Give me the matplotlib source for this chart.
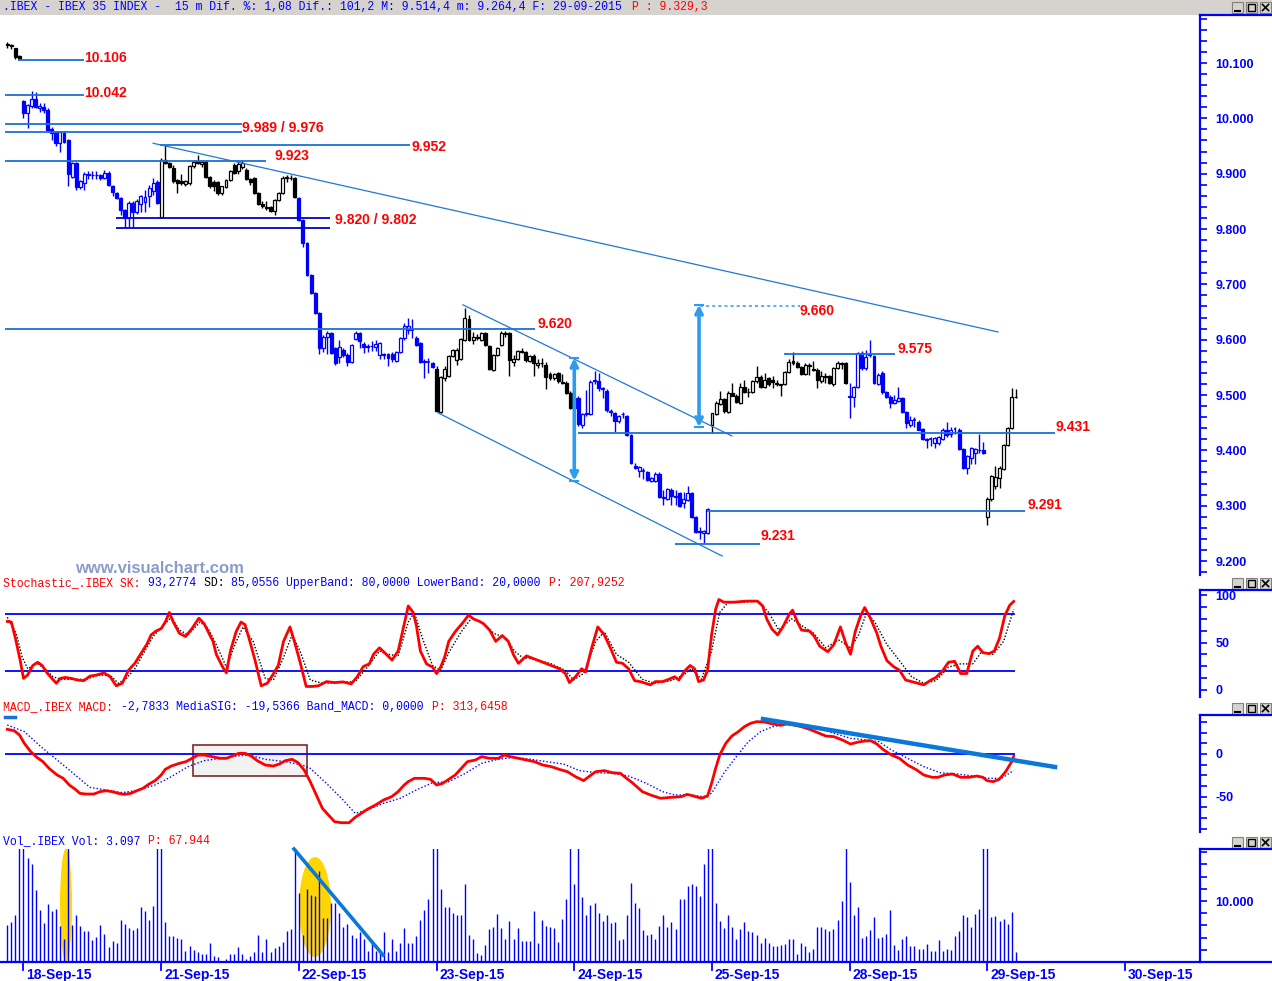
import matplotlib
matplotlib.use('Agg')
import matplotlib.pyplot as plt
from matplotlib.patches import Rectangle, Ellipse
import matplotlib.transforms as mtrans
import numpy as np

# ---------------- DATA ----------------
bars_per_day = [4, 34, 34, 34, 34, 34, 34, 34, 8]
day_labels = ['18-Sep-15', '21-Sep-15', '22-Sep-15', '23-Sep-15', '24-Sep-15',
              '25-Sep-15', '28-Sep-15', '29-Sep-15', '30-Sep-15']

# OHLC per trading day (15 min bars)
d17 = [(10135,10138,10128,10133),(10132,10134,10126,10130),(10127,10128,10107,10111),(10113,10114,10105,10107)]
d18 = [(10031,10033,10001,10010),(10010,10026,9983,10024),(10022,10049,10018,10035),(10035,10047,10018,10021),
       (10019,10027,10012,10022),(10020,10027,10010,10015),(10015,10018,9975,9979),(9981,9985,9961,9974),
       (9975,9977,9950,9955),(9955,9978,9940,9975),(9973,9978,9955,9957),(9960,9962,9878,9900),
       (9894,9922,9892,9919),(9919,9922,9870,9876),(9876,9888,9873,9886),(9883,9903,9870,9899),
       (9897,9905,9890,9899),(9897,9905,9890,9898),(9898,9904,9890,9897),(9897,9900,9888,9892),
       (9892,9906,9890,9902),(9902,9905,9878,9880),(9878,9880,9860,9867),(9865,9867,9855,9856),
       (9856,9858,9825,9834),(9834,9836,9804,9820),(9820,9850,9804,9847),(9847,9850,9804,9830),
       (9830,9855,9828,9850),(9845,9862,9830,9860),(9848,9870,9830,9857),(9860,9880,9840,9875),
       (9868,9892,9862,9884),(9885,9888,9845,9847)]
d21 = [(9822,9928,9820,9925),(9925,9952,9917,9920),(9919,9922,9910,9912),(9910,9915,9883,9886),
       (9888,9890,9865,9883),(9886,9900,9880,9884),(9882,9888,9878,9886),(9883,9916,9880,9914),
       (9914,9925,9910,9922),(9923,9933,9918,9920),(9918,9925,9912,9922),(9921,9924,9893,9894),
       (9894,9896,9875,9878),(9885,9888,9868,9877),(9885,9887,9862,9866),(9866,9878,9862,9877),
       (9876,9890,9874,9888),(9888,9906,9886,9904),(9915,9920,9900,9902),(9905,9925,9900,9918),
       (9912,9925,9908,9920),(9906,9910,9888,9890),(9890,9893,9880,9885),(9892,9894,9863,9865),
       (9865,9867,9843,9845),(9846,9850,9838,9842),(9839,9850,9834,9838),(9840,9842,9830,9832),
       (9832,9855,9826,9852),(9852,9867,9850,9865),(9865,9895,9863,9893),(9893,9898,9885,9894),
       (9893,9897,9888,9892),(9892,9894,9856,9858)]
d22 = [(9856,9858,9815,9817),(9817,9819,9768,9775),(9775,9777,9715,9717),(9717,9719,9682,9684),
       (9684,9686,9646,9648),(9648,9650,9575,9585),(9585,9608,9578,9605),(9605,9615,9575,9612),
       (9612,9614,9574,9576),(9585,9587,9555,9558),(9568,9600,9557,9586),(9582,9585,9568,9572),
       (9573,9576,9553,9560),(9560,9592,9558,9590),(9602,9615,9600,9612),(9612,9614,9585,9597),
       (9592,9596,9576,9587),(9588,9592,9578,9587),(9588,9597,9580,9589),(9586,9600,9580,9592),
       (9572,9596,9565,9594),(9574,9576,9565,9572),(9575,9576,9552,9566),(9575,9578,9560,9565),
       (9562,9580,9560,9578),(9578,9605,9576,9603),(9603,9630,9600,9625),(9618,9640,9610,9625),
       (9617,9637,9603,9617),(9603,9606,9588,9590),(9594,9596,9558,9560),(9561,9565,9531,9560),
       (9560,9566,9540,9560),(9558,9560,9548,9551)]
d23 = [(9547,9552,9469,9471),(9470,9535,9468,9532),(9530,9552,9525,9547),(9535,9572,9532,9570),
       (9570,9584,9568,9582),(9563,9585,9555,9582),(9565,9603,9563,9601),(9600,9658,9598,9640),
       (9638,9645,9598,9600),(9600,9614,9592,9605),(9604,9610,9600,9603),(9600,9614,9598,9612),
       (9612,9614,9588,9590),(9588,9590,9545,9547),(9546,9574,9544,9572),(9572,9587,9570,9585),
       (9590,9616,9588,9612),(9612,9616,9605,9611),(9612,9614,9535,9563),(9560,9572,9553,9565),
       (9565,9581,9563,9580),(9580,9585,9576,9578),(9578,9580,9560,9563),(9562,9573,9560,9570),
       (9570,9575,9535,9557),(9555,9565,9548,9558),(9558,9566,9550,9557),(9555,9560,9510,9533),
       (9538,9542,9528,9530),(9530,9540,9528,9538),(9540,9542,9522,9525),(9524,9538,9520,9522),
       (9522,9525,9502,9504),(9504,9507,9475,9477)]
d24 = [(9477,9500,9470,9495),(9495,9498,9444,9448),(9446,9468,9440,9466),(9466,9509,9462,9467),
       (9466,9527,9464,9524),(9526,9543,9520,9527),(9525,9540,9508,9512),(9512,9514,9494,9511),
       (9508,9510,9470,9473),(9472,9474,9462,9470),(9468,9470,9433,9453),(9453,9464,9450,9462),
       (9465,9469,9458,9466),(9462,9464,9426,9428),(9428,9430,9375,9377),(9372,9378,9366,9368),
       (9362,9372,9352,9370),(9362,9368,9348,9362),(9360,9362,9345,9347),(9345,9352,9343,9350),
       (9345,9360,9343,9358),(9358,9360,9313,9315),(9313,9329,9302,9315),(9312,9332,9310,9330),
       (9328,9332,9302,9318),(9318,9328,9302,9316),(9322,9325,9298,9300),(9305,9325,9295,9312),
       (9310,9335,9308,9322),(9322,9325,9278,9280),(9280,9282,9251,9253),(9254,9262,9240,9253),
       (9250,9256,9233,9254),(9250,9296,9248,9294)]
d25 = [(9446,9468,9432,9467),(9466,9490,9464,9486),(9484,9507,9482,9493),(9493,9495,9468,9472),
       (9470,9508,9468,9504),(9504,9522,9498,9499),(9499,9502,9485,9487),(9486,9522,9484,9514),
       (9514,9528,9503,9505),(9505,9512,9496,9506),(9505,9528,9503,9525),(9525,9552,9522,9533),
       (9533,9536,9512,9514),(9515,9540,9513,9528),(9530,9532,9516,9519),(9528,9534,9513,9523),
       (9520,9527,9517,9521),(9518,9520,9498,9519),(9520,9543,9518,9541),(9542,9565,9540,9559),
       (9562,9578,9555,9557),(9558,9562,9548,9550),(9550,9552,9536,9538),(9538,9558,9536,9554),
       (9552,9558,9536,9554),(9547,9562,9544,9546),(9545,9548,9513,9527),(9526,9543,9522,9534),
       (9534,9540,9522,9533),(9534,9536,9520,9522),(9519,9551,9517,9549),(9549,9562,9547,9557),
       (9556,9559,9547,9557),(9557,9559,9520,9522)]
d28 = [(9496,9521,9458,9498),(9497,9517,9479,9515),(9515,9578,9512,9576),(9576,9580,9546,9548),
       (9548,9581,9545,9569),(9572,9599,9568,9574),(9570,9573,9520,9522),(9520,9540,9518,9536),
       (9540,9544,9502,9505),(9505,9508,9494,9497),(9497,9500,9476,9486),(9486,9500,9484,9491),
       (9490,9515,9488,9495),(9495,9497,9468,9470),(9470,9472,9440,9449),(9446,9462,9443,9455),
       (9454,9460,9443,9454),(9452,9455,9436,9437),(9439,9441,9418,9420),(9421,9423,9405,9419),
       (9421,9424,9407,9421),(9413,9424,9405,9423),(9413,9426,9410,9424),(9420,9440,9418,9437),
       (9437,9452,9425,9427),(9430,9442,9424,9436),(9438,9442,9430,9438),(9437,9440,9400,9402),
       (9402,9404,9366,9368),(9368,9392,9358,9390),(9387,9406,9376,9404),(9396,9405,9376,9402),
       (9400,9430,9396,9401),(9401,9415,9394,9395)]
d29 = [(9280,9315,9265,9312),(9312,9356,9308,9353),(9335,9371,9330,9352),(9350,9372,9332,9368),
       (9366,9412,9364,9410),(9410,9442,9408,9440),(9440,9512,9438,9497),(9496,9510,9494,9497)]

# volume per day
v17 = [6070, 6520, 7640, 25000]
v18 = [25000,17030,16070,11800,8600,6350,9550,8430,8770,5960,3710,25000,6070,7640,5960,5060,5060,
       3540,4100,6070,4660,2420,3370,3150,6910,6180,5510,5230,5510,8990,8430,6910,9160,25000]
v21 = [25000,6520,4270,4270,3930,3710,1850,2700,2020,1690,1290,1290,3150,1010,900,170,560,1290,
       1290,2420,1290,450,1010,1690,4500,1690,3820,1690,2250,2700,3260,5060,5400,25000]
v22 = [11240,4380,11970,11020,10850,14950,7190,7190,9720,9720,8040,5790,6180,4380,3930,4950,3710,
       1850,3150,1850,1460,4950,1690,3710,1850,3150,5620,3150,3150,4270,6910,8600,10290,25000]
v23 = [25000,11970,8990,8990,8040,7640,7640,12810,4380,3710,1460,1120,2810,5400,5790,7870,5620,3710,
       6740,3710,5620,3370,3370,3370,8430,3150,6910,5960,5790,5510,3260,7080,10290,25000]
v24 = [12810,25000,10680,7750,9330,9720,8040,6740,7640,6350,6520,3540,3710,7750,12920,9720,8880,
       5230,4380,4660,3710,5960,7750,5790,6520,5400,10290,10290,12530,12810,12530,10850,16070,25000]
v25 = [25000,9720,6740,5620,7640,5790,3710,5400,6520,5060,4950,4500,3150,3930,3150,2590,2590,2810,
       2980,3710,3710,1240,3150,2590,1690,2140,5790,5790,5400,5060,5400,6910,10000,25000]
v28 = [13090,7640,8990,3930,4270,5230,7310,3930,4100,4550,8600,2810,2020,3820,4210,2700,2590,2140,
       2140,2980,1850,1850,3540,1850,2140,2020,4270,5060,7750,7310,5790,7870,8770,25000]
v29 = [25000,7310,7590,6740,7030,6240,8260,1690]

# Stochastic %K (SK) and %D (SD): (bar, value)
sk = [(0,72.2),(1,71.5),(2,54.6),(3.2,30.8),(4,12.2),(5,15.6),(6.3,25.8),(7.5,29.2),(8.6,25.8),(9.8,18.0),
      (11,12.2),(12.1,7.1),(13.1,12.2),(14.3,13.2),(15.8,12.2),(17.3,10.5),(18.9,9.8),(20.4,14.6),(21.9,15.6),
      (23.9,18.0),(25.4,13.9),(26.9,4.4),(28.4,7.1),(29.9,20.7),(31.5,28.1),(33,38.3),(34.5,48.5),(35.5,58.0),
      (36.7,62.0),(38,64.7),(39,71.5),(40,81.7),(41,71.5),(42.5,59.7),(44,56.3),(45.6,64.7),(47.3,75.6),
      (48.6,69.8),(49.8,59.7),(50.8,51.2),(51.6,37.6),(53.1,24.7),(54.1,18.0),(55.1,41.0),(56.5,61.4),
      (57.7,71.5),(58.7,68.8),(59.9,51.2),(61.2,30.8),(62.7,4.4),(64.2,7.1),(65.5,15.6),(66.9,25.8),(68.2,51.2),
      (69.8,66.4),(71,49.5),(72.3,29.2),(73.8,3.7),(75.3,3.7),(76.8,4.4),(78.8,8.8),(80.8,7.8),(82.9,8.5),
      (84.9,6.4),(86.4,13.9),(87.9,24.7),(89.4,27.5),(90.4,37.6),(91.9,44.4),(93.4,38.3),(95,31.5),(96.5,41.0),
      (97.5,59.7),(99,88.5),(100.2,81.7),(101,68.1),(102,41.0),(103.5,27.5),(105,24.1),(106,17.3),(107,24.1),
      (108,34.9),(109,51.2),(110.6,61.4),(112.6,71.5),(113.9,79.0),(115.1,74.9),(116.6,72.2),(117.6,69.8),
      (119.1,63.1),(120.6,51.2),(122.2,57.3),(123.7,51.2),(125,37.0),(126.2,28.1),(128.2,35.9),(130.2,32.5),
      (132.2,29.2),(134.3,25.8),(136.3,22.4),(137.8,17.3),(138.8,7.8),(140.3,13.9),(141.8,22.4),(142.8,19.0),
      (144.3,44.4),(145.8,66.4),(147.4,58.0),(148.9,44.4),(150.4,29.2),(151.9,28.1),(153.4,22.4),(154.9,9.8),
      (156.3,8.8),(158.8,5.4),(160,8.8),(161.8,8.8),(163.3,11.2),(164.8,13.9),(165.8,10.5),(167.4,20.7),
      (168.6,25.8),(169.7,22.4),(170.7,8.8),(171.9,10.5),(172.9,20.7),(173.9,58.0),(174.9,85.1),(175.7,95.3),
      (176.9,92.5),(179.5,92.5),(182.5,93.6),(185.2,93.6),(186.5,88.5),(187.5,74.9),(188.8,64.1),(190.2,58.0),
      (191.5,66.4),(193.1,80.0),(193.9,84.1),(195.1,71.5),(196.1,63.1),(198.1,62.0),(199.3,56.3),(200.6,46.1),
      (202.6,40.3),(204.1,47.8),(205.7,66.4),(207,49.5),(208.2,37.6),(209.4,62.0),(210.7,78.3),(211.7,86.8),
      (213.2,74.9),(214.7,59.7),(215.7,46.1),(217.2,30.8),(218.8,24.7),(220.3,20.7),(221.8,10.5),(223.3,8.8),
      (224.8,7.1),(226.3,5.4),(227.8,9.8),(229.3,13.2),(230.9,20.0),(232.4,29.2),(233.9,30.2),(235.4,17.3),
      (236.9,17.3),(238.4,41.0),(239.6,46.1),(240.9,39.3),(242.4,38.3),(243.7,41.0),(245,54.6),(246.3,78.3),
      (247.5,89.2),(248.5,93.3)]
sd = [(0,76.6),(2.2,59.7),(3.7,34.2),(5.05,22.4),(7.3,28.1),(9.3,22.4),(11.3,13.9),(13.3,11.2),(16.3,11.2),
      (19.4,11.2),(22.4,15.6),(25.4,15.6),(27.4,7.1),(29.4,12.2),(31.5,22.4),(33.5,37.6),(36,56.3),(38.5,68.1),
      (40.5,76.6),(42.5,63.1),(44.6,58.0),(47.6,71.5),(49.6,64.7),(51.6,47.8),(54.1,24.1),(56.2,47.8),
      (58.2,66.4),(60.7,51.2),(63.7,12.2),(65.7,10.5),(68.2,34.2),(70.3,58.0),(72.3,41.0),(74.8,10.5),
      (77.8,7.1),(81.8,7.8),(85.9,8.8),(88.9,24.1),(91.9,41.0),(93.9,37.6),(96.5,35.9),(99,71.5),(100.5,81.7),
      (102.5,54.6),(105,25.8),(107,20.7),(109,39.3),(112.1,61.4),(114.6,75.6),(117.1,71.5),(120.1,59.7),
      (123.2,54.6),(125.2,41.0),(127.2,34.2),(130.2,32.5),(134.3,27.5),(137.8,20.7),(139.8,10.5),(142.3,17.3),
      (145.3,51.2),(147.4,61.4),(150.4,37.6),(153.4,29.2),(156.8,11.2),(159.8,7.1),(163.8,9.8),(166.9,15.6),
      (168.9,22.4),(171.4,11.2),(173.9,41.0),(175.9,81.7),(177.9,91.9),(182,92.5),(185.5,93.6),(188,81.7),
      (190.5,63.1),(193.6,74.9),(196.1,68.1),(199.1,59.7),(202.1,44.4),(205.2,52.9),(208.2,44.4),(210.2,58.0),
      (212.2,81.7),(214.2,71.5),(217.2,47.8),(220.3,30.8),(223.3,13.9),(226.3,7.1),(229.3,9.8),(232.4,24.1),
      (235.4,27.5),(238.4,27.5),(240.4,39.3),(243.4,37.6),(246,51.2),(248.5,85.1)]

# MACD and signal: (bar, value)
macd = [(0,28.9),(1.7,27.3),(3,22.3),(4.2,12.5),(5.8,2.7),(7.3,-3.9),(8.8,-9.0),(10.3,-16.8),(12.3,-24.6),
        (13.8,-28.5),(15.3,-36.3),(16.8,-41.4),(17.9,-46.1),(19.4,-46.9),(21.4,-46.9),(22.9,-44.1),(24.4,-43.0),
        (25.9,-44.1),(27.4,-46.1),(28.9,-47.3),(30.5,-46.1),(32,-43.0),(33.5,-40.2),(35,-35.2),(36.5,-31.2),
        (38,-24.6),(39,-18.0),(40.5,-14.1),(42.5,-10.9),(44.1,-9.0),(45.6,-5.1),(47.1,-1.2),(48.6,-1.2),
        (50.6,-3.1),(52.6,-5.1),(54.1,-5.1),(55.6,-2.3),(57.2,0.8),(58.7,0.8),(60.2,-2.3),(61.7,-7.8),
        (63.7,-12.9),(65.7,-14.1),(67.2,-11.7),(68.7,-7.8),(70.3,-6.2),(71.8,-10.2),(73.3,-18.8),(74.8,-32.4),
        (76.3,-48.0),(77.8,-63.7),(79.3,-71.5),(80.8,-79.3),(82.4,-80.5),(84.4,-80.5),(85.9,-74.2),(87.4,-69.5),
        (88.9,-64.8),(90.9,-59.8),(92.9,-53.9),(94.9,-50.0),(96.5,-44.1),(98,-36.3),(99,-32.4),(100.5,-28.5),
        (103,-28.5),(104.5,-29.7),(106,-36.3),(107.5,-34.4),(109,-29.7),(110.6,-24.6),(112.1,-16.8),
        (113.6,-9.0),(115.6,-7.0),(117.1,-3.1),(119.1,-5.1),(121.2,-5.1),(122.7,-1.2),(124.2,-3.1),(126.2,-5.1),
        (128.2,-7.0),(130.2,-9.0),(132.2,-12.9),(134.3,-14.8),(136.3,-18.0),(138.3,-20.7),(140.3,-26.6),
        (142.3,-31.2),(143.8,-25.8),(145.3,-20.7),(147.4,-19.5),(149.4,-21.9),(151.4,-22.7),(152.9,-28.5),
        (154.4,-34.0),(156.8,-44.1),(158.8,-48.0),(161.3,-51.9),(163.8,-50.8),(166.4,-50.0),(167.9,-47.3),
        (169.4,-49.2),(171.4,-51.9),(172.9,-49.2),(173.9,-34.4),(174.9,-16.8),(175.9,-1.2),(177.4,12.5),
        (178.9,21.1),(180.5,26.2),(182,32.0),(183.5,35.9),(185,37.9),(187,37.5),(189,35.2),(191,33.6),
        (192.5,35.2),(194.1,34.0),(196.1,32.0),(198.1,28.9),(200.1,25.0),(202.1,21.1),(204.1,20.3),(206.2,16.4),
        (208.2,11.7),(210.2,14.1),(211.7,15.2),(213.2,15.6),(214.7,11.7),(216.2,5.5),(218.3,-1.2),(220.3,-5.1),
        (222.3,-12.9),(224.3,-18.0),(226.3,-24.6),(228.3,-27.3),(229.8,-27.3),(231.4,-24.6),(233.4,-23.4),
        (235.4,-27.3),(237.4,-27.3),(239.4,-25.8),(240.9,-27.3),(241.9,-31.2),(243.4,-32.4),(244.9,-29.7),
        (246.5,-20.7),(248,-9.0),(248.5,-2.8)]
signal = [(0,34.0),(4.2,26.2),(8.3,8.6),(12.3,-7.0),(16.3,-22.7),(20.4,-39.1),(24.4,-42.2),(28.4,-45.3),
          (32.5,-42.2),(36.5,-36.3),(40.5,-26.6),(44.6,-14.8),(48.6,-7.8),(52.6,-5.1),(56.7,-2.3),(59.7,-1.2),
          (63.7,-6.2),(68.7,-9.0),(72.8,-12.9),(74.8,-16.8),(78.8,-34.4),(82.9,-53.9),(85.9,-69.5),(88.9,-65.6),
          (92.9,-57.8),(97,-51.9),(101,-42.2),(105,-33.6),(109,-32.4),(113.1,-22.7),(117.1,-10.9),(121.2,-6.2),
          (125.2,-3.9),(129.2,-6.2),(133.2,-9.0),(137.3,-11.7),(141.3,-19.5),(145.3,-21.9),(149.4,-22.7),
          (153.4,-25.8),(157.8,-34.4),(161.8,-44.1),(164.8,-48.0),(168.9,-48.0),(171.9,-50.0),(173.9,-46.1),
          (176.9,-22.7),(180,-3.1),(183,14.5),(186,26.2),(189,32.0),(192.1,34.8),(196.1,34.0),(200.1,30.1),
          (204.1,24.2),(208.2,18.4),(212.2,16.4),(215.2,14.5),(218.3,4.7),(222.3,-5.1),(226.3,-14.8),
          (230.3,-21.9),(234.4,-23.4),(238.4,-25.8),(242.4,-28.5),(245.5,-28.5),(248,-20.7),(248.5,-19.5)]

# Drawn support / resistance levels: (price, first bar, last bar)
levels_light = [(10106, 2.6, 18.9), (10042, -0.6, 18.9), (9989, -0.6, 57.9), (9976, -0.6, 57.9),
                (9952, 37.7, 99.4), (9923, -0.6, 63.9), (9620, -0.6, 130.3), (9575, 191.8, 219.2),
                (9431, 140.9, 258.7), (9291, 172.8, 251.3), (9231, 164.9, 185.9)]
levels_dark = [(9820, 26.8, 79.7), (9802, 26.8, 79.7)]
level_labels = [('10.106', 18.9, 10109), ('10.042', 18.9, 10046), ('9.989 / 9.976', 57.9, 9983),
                ('9.952', 99.9, 9948), ('9.923', 65.9, 9932), ('9.820 / 9.802', 80.9, 9816),
                ('9.620', 130.8, 9628), ('9.660', 195.7, 9652), ('9.575', 219.7, 9583),
                ('9.431', 258.7, 9442), ('9.291', 251.8, 9301), ('9.231', 185.9, 9245)]
trendlines = [((36.0, 9955), (244.6, 9614)), ((112.5, 9663), (178.9, 9426)), ((106.3, 9468), (176.5, 9209))]
arrows = [(140.0, 9567, 9345), (170.8, 9663, 9442)]
target_line = (9660, 171.0, 195.7)

# ---------------- LAYOUT HELPERS ----------------
W, H = 1272, 981
BLUE = '#0000FF'
LBLUE = '#1C6FD6'
RED = '#FF0000'
fig = plt.figure(figsize=(W / 100, H / 100), dpi=100)
fig.patch.set_facecolor('white')

PXB, X0 = 4.05, 7.3
def bx(px):
    return (px - X0) / PXB

def frect(x0, y0, x1, y1):
    return [x0 / W, 1 - y1 / H, (x1 - x0) / W, (y1 - y0) / H]

XL = (bx(0), bx(1200))

def style(ax, ylim):
    for s in ['left', 'top', 'bottom']:
        ax.spines[s].set_visible(False)
    ax.spines['right'].set_color(BLUE)
    ax.spines['right'].set_linewidth(1.6)
    ax.yaxis.tick_right()
    ax.tick_params(axis='y', which='both', direction='out', colors=BLUE, length=5, width=1.2, pad=6)
    ax.tick_params(axis='x', which='both', bottom=False, labelbottom=False)
    ax.set_xlim(*XL)
    ax.set_ylim(*ylim)
    ax.patch.set_alpha(0)

def set_labels(ax, ticks, labels, minor):
    ax.set_yticks(ticks)
    ax.set_yticklabels(labels, fontsize=9, fontweight='bold', family='Liberation Sans', color=BLUE)
    ax.set_yticks(minor, minor=True)

# ---------------- TITLE BAR ----------------
fig.add_artist(Rectangle((0, 1 - 15 / H), 1, 15 / H, transform=fig.transFigure,
                         facecolor='#D6D3CE', edgecolor='none', zorder=0))

FS = 8.3
CW = 0.6 * FS * 100 / 72
def seg_text(x, y, segs):
    n = 0
    for s, c in segs:
        fig.text((x + n * CW) / W, 1 - y / H, s, color=c, fontsize=FS, family='Liberation Mono',
                 va='center', ha='left')
        n += len(s)

def buttons(ytop):
    for k, bxp in enumerate([1232, 1246, 1260]):
        fig.add_artist(Rectangle((bxp / W, 1 - (ytop + 11) / H), 11 / W, 11 / H, transform=fig.transFigure,
                                 facecolor='#D6D3CE', edgecolor='#808080', lw=0.8))
        cx, cy = bxp + 5.5, ytop + 5.5
        if k == 0:
            fig.add_artist(plt.Line2D([(cx - 3) / W, (cx + 2) / W], [1 - (cy + 3) / H] * 2,
                                      transform=fig.transFigure, color='black', lw=1.5))
        elif k == 1:
            fig.add_artist(Rectangle(((cx - 3.5) / W, 1 - (cy + 3.5) / H), 7 / W, 7 / H,
                                     transform=fig.transFigure, facecolor='none', edgecolor='black', lw=1))
        else:
            fig.add_artist(plt.Line2D([(cx - 3) / W, (cx + 3) / W], [1 - (cy - 3) / H, 1 - (cy + 3) / H],
                                      transform=fig.transFigure, color='black', lw=1.2))
            fig.add_artist(plt.Line2D([(cx - 3) / W, (cx + 3) / W], [1 - (cy + 3) / H, 1 - (cy - 3) / H],
                                      transform=fig.transFigure, color='black', lw=1.2))

seg_text(3, 7.5, [('.IBEX - IBEX 35 INDEX -  15 m Dif. %: 1,08 Dif.: 101,2 M: 9.514,4 m: 9.264,4 F: 29-09-2015 ', BLUE),
                  ('P : 9.329,3', RED)])
buttons(2)

# ---------------- PRICE PANEL ----------------
axP = fig.add_axes(frect(0, 15, 1200, 575))
style(axP, (9174.7, 10186.8))
set_labels(axP, np.arange(9200, 10101, 100),
           ['{:,}'.format(v).replace(',', '.') for v in range(9200, 10101, 100)],
           np.arange(9180, 10181, 20))

days = [d17, d18, d21, d22, d23, d24, d25, d28, d29]
ohlc = np.array([b for d in days for b in d], dtype=float)
O, Hh, L, C = ohlc.T
N = len(ohlc)
idx = np.arange(N)
day_of_bar = np.concatenate([[k] * n for k, n in enumerate(bars_per_day)])
cols = np.where(day_of_bar % 2 == 0, 'black', BLUE)

axP.vlines(idx, L, Hh, colors=cols, lw=1.0, zorder=2)
up = C > O
dn = C < O
eq = C == O
BW = 0.72
axP.bar(idx[up], (C - O)[up], bottom=O[up], width=BW, facecolor='white', edgecolor=cols[up],
        lw=0.9, zorder=2.5)
axP.bar(idx[dn], (C - O)[dn], bottom=O[dn], width=BW, facecolor=cols[dn], edgecolor=cols[dn],
        lw=0.9, zorder=2.5)
axP.hlines(C[eq], idx[eq] - BW / 2, idx[eq] + BW / 2, colors=cols[eq], lw=1.2, zorder=2.5)

for p, a, b in levels_light:
    axP.hlines(p, a, b, color=LBLUE, lw=1.3, zorder=3)
for p, a, b in levels_dark:
    axP.hlines(p, a, b, color='#0000C8', lw=1.3, zorder=3)
for (a, pa), (b, pb) in trendlines:
    axP.plot([a, b], [pa, pb], color='#1E78D8', lw=0.9, zorder=3)
axP.hlines(target_line[0], target_line[1], target_line[2], color='#2E9BEF', lw=1.1,
           linestyles=(0, (2, 2)), zorder=3)
for xi, ptop, pbot in arrows:
    axP.annotate('', xy=(xi, ptop), xytext=(xi, pbot),
                 arrowprops=dict(arrowstyle='<->', color='#2E9BEF', lw=2.6, mutation_scale=11,
                                 shrinkA=0, shrinkB=0), zorder=4)
    axP.hlines([ptop, pbot], xi - 1.2, xi + 1.2, color='#2E9BEF', lw=1.5, zorder=4)
for txt, xi, p in level_labels:
    axP.text(xi, p, txt, color=RED, fontsize=10, fontweight='bold', family='Liberation Sans',
             va='center', ha='left', zorder=5)
axP.text(bx(75), 9187, 'www.visualchart.com', color='#8C9BCB', fontsize=12, fontweight='bold',
         family='Liberation Sans', va='center', ha='left')

# ---------------- STOCHASTIC ----------------
seg_text(3, 583, [('Stochastic_.IBEX SK: ', RED), ('93,2774 ', BLUE), ('SD: ', 'black'),
                  ('85,0556 UpperBand: 80,0000 LowerBand: 20,0000 ', BLUE), ('P: 207,9252', RED)])
buttons(578)
axS = fig.add_axes(frect(0, 590, 1200, 697))
style(axS, (-7.4, 105.3))
set_labels(axS, [0, 50, 100], ['0', '50', '100'], np.arange(0, 101, 12.5))
axS.hlines([80, 20], bx(5), bx(1015), color=BLUE, lw=1.3)
sdb, sdv = np.array(sd).T
axS.plot(sdb, sdv, color='black', lw=1.0, ls=(0, (1, 1.3)))
skb, skv = np.array(sk).T
axS.plot(skb, skv, color=RED, lw=2.0)

# ---------------- MACD ----------------
seg_text(3, 707, [('MACD_.IBEX MACD: ', RED), ('-2,7833 MediaSIG: -19,5366 Band_MACD: 0,0000 ', BLUE),
                  ('P: 313,6458', RED)])
fig.add_artist(plt.Line2D([5 / W, 15 / W], [1 - 717 / H] * 2, transform=fig.transFigure, color='#1C6FD6', lw=2.5))
buttons(703)
axM = fig.add_axes(frect(0, 715, 1200, 832))
style(axM, (-91.4, 45.7))
set_labels(axM, [-50, 0], ['-50', '0'], np.arange(-87.5, 45, 12.5))
axM.add_patch(Rectangle((bx(193), -25.8), bx(307) - bx(193), 36.4, facecolor='#F2F2F2',
                        edgecolor='#7A2A2A', lw=1.2, zorder=1))
axM.hlines(0, bx(5), bx(1015), color=BLUE, lw=1.3, zorder=2)
mb, mv = np.array(signal).T
axM.plot(mb, mv, color=BLUE, lw=1.0, ls=(0, (1, 1.5)), zorder=3)
mb2, mv2 = np.array(macd).T
axM.plot(mb2, mv2, color=RED, lw=2.0, zorder=3)
axM.plot([bx(763), bx(1055)], [41.0, -15.2], color='#0A78D8', lw=3.2, zorder=4)

# ---------------- VOLUME ----------------
seg_text(3, 841, [('Vol_.IBEX Vol: 3.097 ', BLUE), ('P: 67.944', RED)])
buttons(837)
axV = fig.add_axes(frect(0, 849, 1200, 962))
style(axV, (0, 18525))
set_labels(axV, [10000], ['10.000'], np.arange(2000, 18001, 2000))
axV.add_patch(Ellipse((bx(66), 9344), 12 / PXB, 18525, facecolor='#FFD700', edgecolor='none', zorder=1))
axV.add_patch(Ellipse((bx(315), 9016), 32 / PXB, 16393, facecolor='#FFD700', edgecolor='none', zorder=1))
vol = np.array(v17 + v18 + v21 + v22 + v23 + v24 + v25 + v28 + v29, dtype=float)
axV.vlines(np.arange(len(vol)), 0, vol, color=BLUE, lw=1.0, zorder=2)
axV.plot([bx(294), bx(383)], [18525, 1148], color='#0A78D8', lw=2.6, zorder=3, clip_on=False)

# date axis
starts = np.cumsum([0] + bars_per_day)[1:]
tick_bars = list(starts[:-1]) + [starts[-2] + 34]
trans = mtrans.blended_transform_factory(axV.transData, fig.transFigure)
for tb, lab in zip(tick_bars, day_labels):
    axV.plot([tb, tb], [1 - 962 / H, 1 - 970 / H], transform=trans, color=BLUE, lw=1.3, clip_on=False)
    axV.text(tb + 3 / PXB, 1 - 975 / H, lab, transform=trans, color=BLUE, fontsize=10,
             fontweight='bold', family='Liberation Sans', va='center', ha='left')

# panel borders on the right axis area and baseline
for ytop in [15, 590, 715, 849]:
    fig.add_artist(plt.Line2D([1200 / W, 1], [1 - ytop / H] * 2, transform=fig.transFigure,
                              color=BLUE, lw=1.6))
fig.add_artist(plt.Line2D([0, 1], [1 - 962 / H] * 2, transform=fig.transFigure, color=BLUE, lw=1.6))

fig.savefig('out.png', dpi=100)
